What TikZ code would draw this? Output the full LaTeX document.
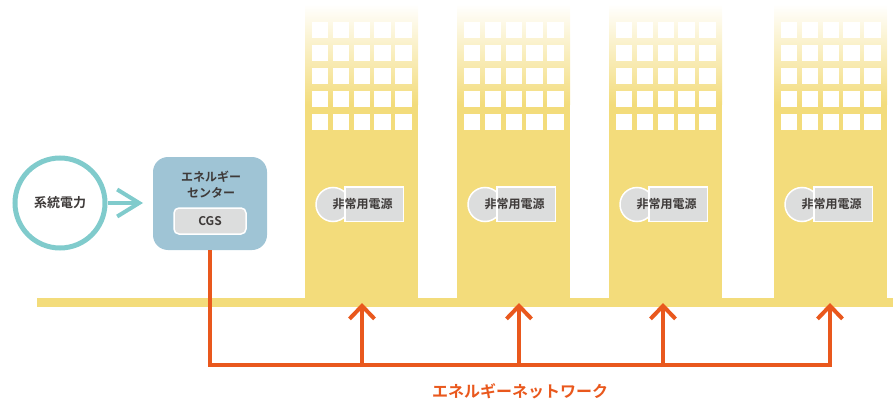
\documentclass[tikz,border=0pt]{standalone}
\usepackage{fontspec}
\newfontfamily\jp{Noto Sans CJK JP}[BoldFont={Noto Sans CJK JP Bold}]
\usetikzlibrary{arrows.meta}
\definecolor{bldyellow}{HTML}{F3DC7B}
\definecolor{ecblue}{HTML}{9FC4D5}
\definecolor{boxgray}{HTML}{DCDDDD}
\definecolor{gridteal}{HTML}{80CBCC}
\definecolor{netorange}{HTML}{E9581D}
\definecolor{inkgray}{HTML}{3E3A39}
\tikzset{
  label text/.style={font=\jp\bfseries\fontsize{12}{14}\selectfont, text=inkgray, inner sep=0pt},
  netline/.style={draw=netorange, line width=4pt},
  nettip/.style={-{Straight Barb[length=13pt,width=25pt]}},
  window/.style={fill=white, draw=none},
  genbox/.style={fill=boxgray, draw=white, line width=1.5pt},
}
\begin{document}
\begin{tikzpicture}[x=1pt,y=-1pt]
\useasboundingbox (0,0) rectangle (893,401);

% ground strip
\fill[bldyellow] (37,298) rectangle (893,307);

% buildings: body, faded top, window grid, emergency generator
\foreach \bx/\nm in {305/b1,457/b2,609/b3,774/b4}{
  \fill[bldyellow] (\bx,104) rectangle (\bx+113,299);
  \shade[top color=white, bottom color=bldyellow] (\bx,4) rectangle (\bx+113,104.5);
  \foreach \c in {0,...,4}{
    \foreach \r in {0,...,4}{
      \fill[window] (\bx+7+\c*20.8,22+\r*23) rectangle ++(16.3,16.3);
    }
  }
  \coordinate (\nm) at (\bx+56.5,303);
  \draw[genbox] (\bx+28,204.5) circle (17);
  \draw[genbox] (\bx+40,187) rectangle (\bx+98.5,221.5);
  \node[label text] (\nm-gen) at (\bx+57.5,204.5) {非常用電源};
}

% grid power
\node[circle, draw=gridteal, line width=5pt, minimum size=90pt, inner sep=0pt,
      font=\jp\bfseries\fontsize{13}{15}\selectfont, text=inkgray] (grid) at (60,203) {系統電力};

% energy center with CGS
\node[fill=ecblue, rounded corners=15pt, minimum width=114pt, minimum height=93pt, inner sep=0pt] (ec) at (210,203.5) {};
\node[label text, align=center, font=\jp\bfseries\fontsize{12}{16}\selectfont] (ectitle) at (211,185) {エネルギー\\センター};
\node[fill=boxgray, draw=white, line width=1.5pt, rounded corners=5pt,
      minimum width=72pt, minimum height=26pt, inner sep=0pt,
      font=\jp\bfseries\fontsize{12}{14}\selectfont, text=inkgray] (cgs) at (210,221) {CGS};

% grid feed arrow
\draw[gridteal, line width=4pt, -{Straight Barb[length=22pt,width=27pt]}] (grid.east) -- (143,203) coordinate (ecin);

% energy network
\coordinate (nb) at (210,365);
\draw[netline] (ec.south -| nb) -- (nb) -- (830,365);
\foreach \ax/\nm in {362/b1,519/b2,663/b3,830/b4}{
  \draw[netline, nettip] (\ax,367) -- (\ax,303);
}
\node[font=\jp\bfseries\fontsize{16}{18}\selectfont, text=netorange, inner sep=0pt] (netlabel) at (520,391.5) {エネルギーネットワーク};
\end{tikzpicture}
\end{document}
